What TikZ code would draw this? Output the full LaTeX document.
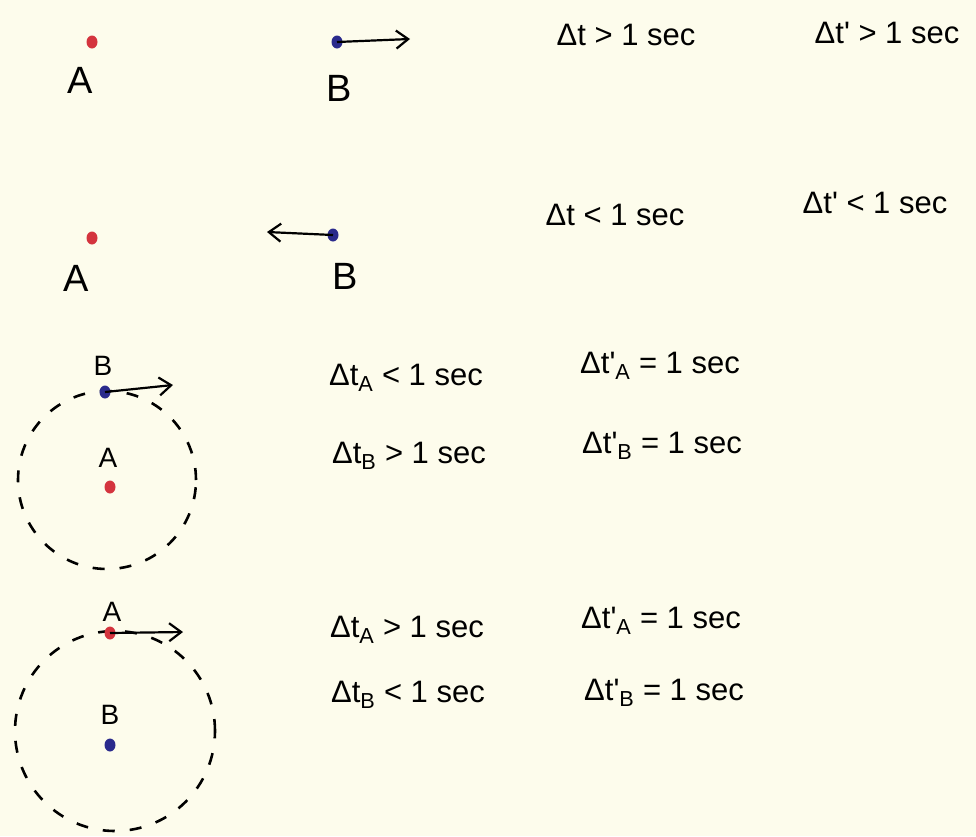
\documentclass[tikz,border=0pt]{standalone}
\usepackage{fontspec}
\setmainfont{Liberation Sans}
\usetikzlibrary{arrows.meta,shapes.geometric}
\definecolor{bg}{RGB}{253,252,236}
\definecolor{dotred}{RGB}{212,52,62}
\definecolor{dotblue}{RGB}{42,42,140}
\newcommand{\dtp}[1]{Δt\textquotesingle\textsubscript{#1}}
\newcommand{\dts}[1]{Δt\textsubscript{#1}}
\begin{document}
\begin{tikzpicture}[x=1pt,y=-1pt,
  reddot/.style={ellipse,fill=dotred,inner sep=0pt,minimum width=11pt,minimum height=13pt},
  bluedot/.style={ellipse,fill=dotblue,inner sep=0pt,minimum width=11pt,minimum height=13pt},
  biglabel/.style={inner sep=0pt,font=\fontsize{38}{40}\selectfont},
  smalllabel/.style={inner sep=0pt,font=\fontsize{28}{30}\selectfont},
  eq/.style={inner sep=0pt,anchor=base,font=\fontsize{31}{34}\selectfont},
  arr/.style={line width=2.2pt,-{Straight Barb[length=12pt,width=18pt,line width=2.2pt]}},
  orbit/.style={circle,draw,line width=2.6pt,dash pattern=on 12pt off 15pt,inner sep=0pt}]
\path[use as bounding box,fill=bg] (0,0) rectangle (976,836);

% Row 1
\node[reddot] (A1) at (92,42) {};
\node[biglabel] (LA1) at (80,80) {A};
\node[bluedot] (B1) at (337,42) {};
\node[biglabel] (LB1) at (339,88) {B};
\coordinate (E1) at (410,39);
\draw[arr] (B1.center) -- (E1);
\node[eq] (T1a) at (626,45) {Δt > 1 sec};
\node[eq] (T1b) at (887,43) {Δt\textquotesingle\ > 1 sec};

% Row 2
\node[reddot] (A2) at (92,238) {};
\node[biglabel] (LA2) at (76,278) {A};
\node[bluedot] (B2) at (333,235) {};
\node[biglabel] (LB2) at (345,276) {B};
\coordinate (E2) at (267,232);
\draw[arr] (B2.center) -- (E2);
\node[eq] (T2a) at (615,225) {Δt < 1 sec};
\node[eq] (T2b) at (875,213) {Δt\textquotesingle\ < 1 sec};

% Row 3
\node[orbit,minimum size=178pt] (C3) at (107,480) {};
\node[bluedot] (B3) at (105,392) {};
\node[smalllabel] (LB3) at (103,366) {B};
\coordinate (E3) at (173,385);
\draw[arr] (B3.center) -- (E3);
\node[smalllabel] (LA3) at (108,458) {A};
\node[reddot] (A3) at (110,487) {};
\node[eq] (T3a) at (406,385) {\dts{A} < 1 sec};
\node[eq] (T3b) at (660,373) {\dtp{A} = 1 sec};
\node[eq] (T3c) at (409,463) {\dts{B} > 1 sec};
\node[eq] (T3d) at (662,453) {\dtp{B} = 1 sec};

% Row 4
\node[orbit,minimum size=200pt] (C4) at (115,731) {};
\node[reddot] (A4) at (110,633) {};
\node[smalllabel] (LA4) at (112,612) {A};
\coordinate (E4) at (183,632);
\draw[arr] (A4.center) -- (E4);
\node[smalllabel] (LB4) at (110,715) {B};
\node[bluedot] (B4) at (110,745) {};
\node[eq] (T4a) at (407,637) {\dts{A} > 1 sec};
\node[eq] (T4b) at (661,628) {\dtp{A} = 1 sec};
\node[eq] (T4c) at (408,702) {\dts{B} < 1 sec};
\node[eq] (T4d) at (664,700) {\dtp{B} = 1 sec};
\end{tikzpicture}
\end{document}
